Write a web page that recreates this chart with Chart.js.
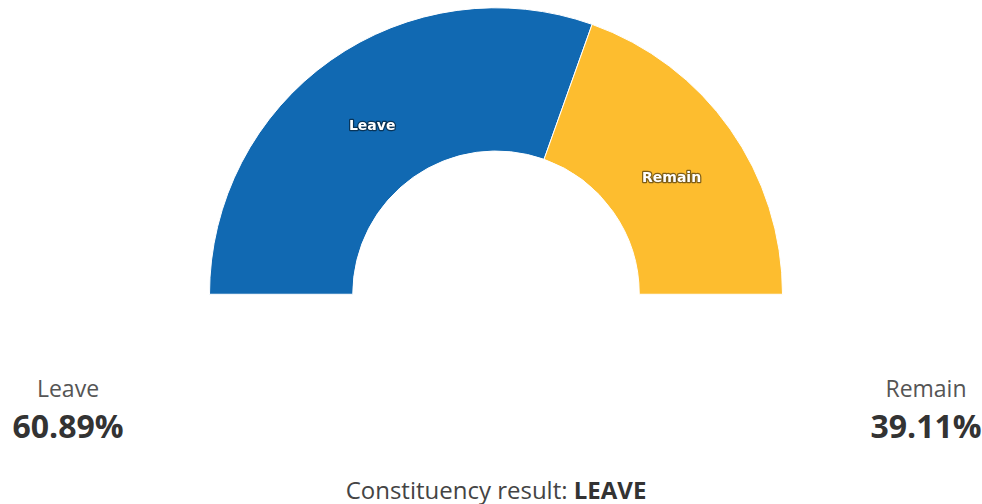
<!DOCTYPE html>
<html>
<head>
<meta charset="utf-8">
<script src="https://cdn.jsdelivr.net/npm/chart.js@4/dist/chart.umd.min.js"></script>
<style>
  html, body { margin: 0; padding: 0; background: #fff; }
  body { width: 982px; height: 504px; position: relative; overflow: hidden; font-family: "Open Sans", sans-serif; }
  #wrap { position: absolute; left: 209px; top: 7px; width: 574px; height: 288px; }
  .side { position: absolute; top: 373px; width: 160px; text-align: center; }
  .side .name { font-size: 23px; color: #555; line-height: 30px; }
  .side .pct { font-size: 32px; font-weight: 700; color: #333; line-height: 45px; }
  #left { left: -12px; }
  #right { left: 846px; }
  #result { position: absolute; top: 474px; left: 0; width: 992px; text-align: center; font-size: 24px; line-height: 32px; color: #444; }
  #result b { color: #333; }
</style>
</head>
<body>
<div id="wrap"><canvas id="c"></canvas></div>
<div class="side" id="left"><div class="name"></div><div class="pct"></div></div>
<div class="side" id="right"><div class="name"></div><div class="pct"></div></div>
<div id="result"></div>
<script>
// Referendum vote share for the constituency
const options = ['Leave', 'Remain'];
const shares = [60.89, 39.11];
const optionColors = ['#1169b2', '#fdbd2f'];
const resultText = 'Constituency result: ';

// Slice names written inside each arc
const sliceLabels = {
  id: 'sliceLabels',
  afterDatasetsDraw(chart) {
    const ctx = chart.ctx;
    const meta = chart.getDatasetMeta(0);
    ctx.save();
    ctx.font = 'bold 14px "DejaVu Sans", sans-serif';
    ctx.textAlign = 'center';
    ctx.textBaseline = 'middle';
    ctx.lineJoin = 'round';
    meta.data.forEach((arc, i) => {
      const p = arc.tooltipPosition();
      const y = p.y + 8;
      ctx.strokeStyle = 'rgba(0,0,0,0.5)';
      ctx.lineWidth = 2.5;
      ctx.strokeText(chart.data.labels[i], p.x, y);
      ctx.fillStyle = '#ffffff';
      ctx.fillText(chart.data.labels[i], p.x, y);
    });
    ctx.restore();
  }
};

new Chart(document.getElementById('c'), {
  type: 'doughnut',
  data: {
    labels: options,
    datasets: [{
      data: shares,
      backgroundColor: optionColors,
      borderColor: '#ffffff',
      borderWidth: 1
    }]
  },
  options: {
    responsive: true,
    maintainAspectRatio: false,
    animation: false,
    rotation: -90,
    circumference: 180,
    cutout: '50%',
    plugins: {
      legend: { display: false },
      tooltip: { enabled: false }
    }
  },
  plugins: [sliceLabels]
});

// Totals under the chart
const sides = [document.getElementById('left'), document.getElementById('right')];
sides.forEach((el, i) => {
  el.querySelector('.name').textContent = options[i];
  el.querySelector('.pct').textContent = shares[i].toFixed(2) + '%';
});
const winner = shares[0] >= shares[1] ? options[0] : options[1];
const res = document.getElementById('result');
res.textContent = resultText;
const b = document.createElement('b');
b.textContent = winner.toUpperCase();
res.appendChild(b);
</script>
</body>
</html>
